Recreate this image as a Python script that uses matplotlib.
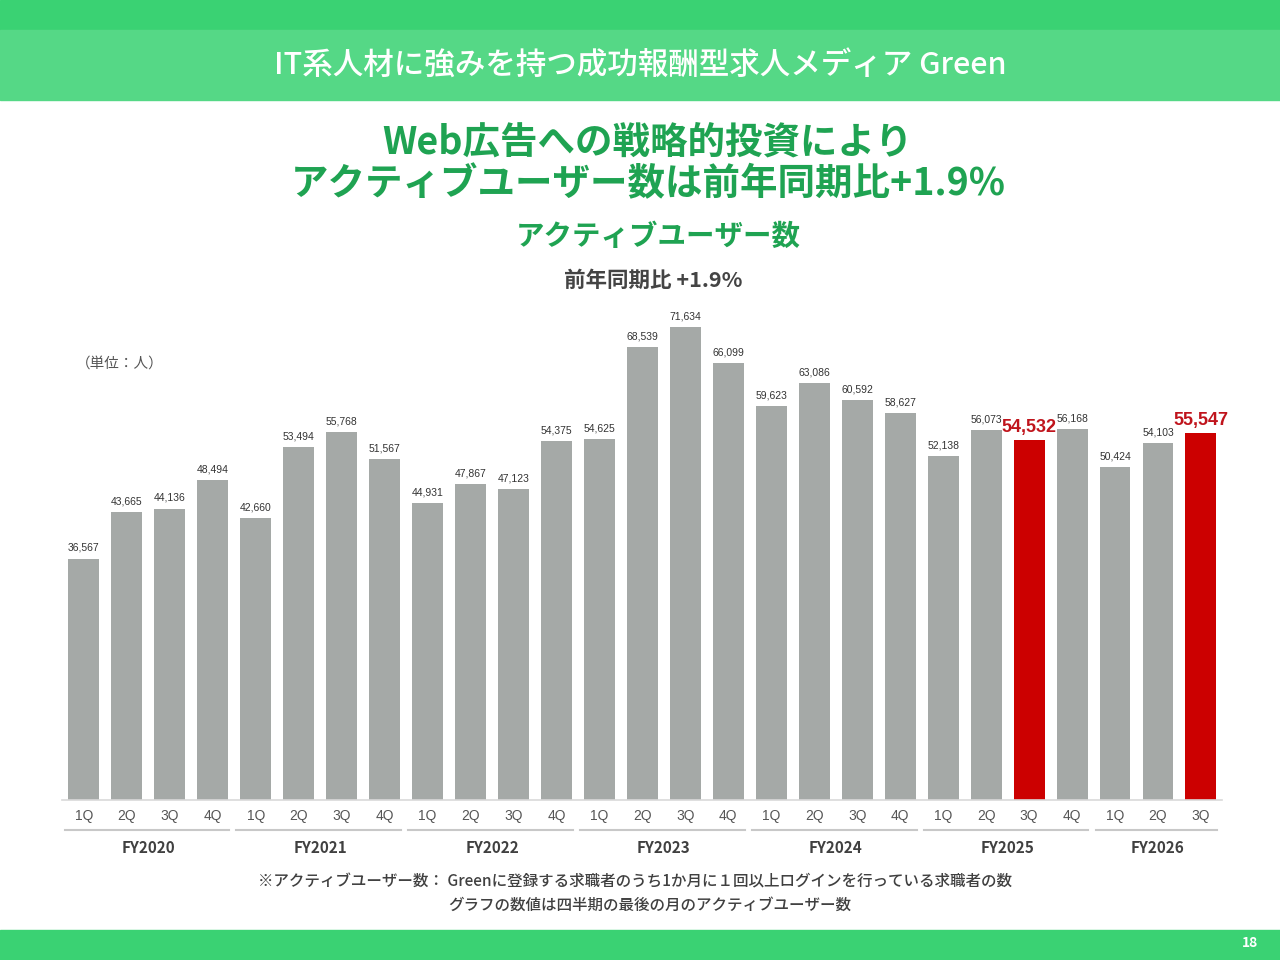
import numpy as np
import matplotlib
matplotlib.use('Agg')
from matplotlib import pyplot as plt
from matplotlib.patches import Rectangle
import matplotlib.transforms as mtransforms

plt.rcParams['font.family'] = ['Noto Sans CJK JP', 'DejaVu Sans']

# Data
# ----------------------------
fiscal_years = ['FY2020', 'FY2021', 'FY2022', 'FY2023', 'FY2024', 'FY2025', 'FY2026']
quarters_per_year = [4, 4, 4, 4, 4, 4, 3]
quarter_names = ['1Q', '2Q', '3Q', '4Q']
active_users = [36567, 43665, 44136, 48494,
                42660, 53494, 55768, 51567,
                44931, 47867, 47123, 54375,
                54625, 68539, 71634, 66099,
                59623, 63086, 60592, 58627,
                52138, 56073, 54532, 56168,
                50424, 54103, 55547]
highlight = [22, 26]   # FY2025 3Q and FY2026 3Q drawn red

tick_labels = []
for n in quarters_per_year:
    tick_labels += quarter_names[:n]

# Figure and page decorations
# ----------------------------
W, H = 1280, 960
fig = plt.figure(figsize=(12.8, 9.6), dpi=100)
fig.patch.set_facecolor('white')

def px(x, y):
    # pixel (from top-left) to figure fraction
    return x / W, 1 - y / H

fig.patches.append(Rectangle((0, 1 - 30 / H), 1, 30 / H, transform=fig.transFigure,
                             color='#3AD273', zorder=0))
fig.patches.append(Rectangle((0, 1 - 100 / H), 1, 70 / H, transform=fig.transFigure,
                             color='#55D886', zorder=0))
fig.patches.append(Rectangle((0, 0), 1, 30 / H, transform=fig.transFigure,
                             color='#3AD273', zorder=0))

fig.text(*px(640, 66), 'IT系人材に強みを持つ成功報酬型求人メディア Green', color='white',
         fontsize=22, fontweight='medium', ha='center', va='center')
fig.text(*px(1250, 943), '18', color='white', fontsize=10, fontweight='bold',
         ha='center', va='center')

title_green = '#1FA352'
fig.text(*px(648, 142), 'Web広告への戦略的投資により', color=title_green,
         fontsize=27, fontweight='bold', ha='center', va='center')
fig.text(*px(648, 184), 'アクティブユーザー数は前年同期比+1.9%', color=title_green,
         fontsize=27, fontweight='bold', ha='center', va='center')
fig.text(*px(658, 237), 'アクティブユーザー数', color=title_green,
         fontsize=20.5, fontweight='bold', ha='center', va='center')
fig.text(*px(653, 280), '前年同期比 +1.9%', color='#444444',
         fontsize=15.5, fontweight='bold', ha='center', va='center')
fig.text(*px(76, 364), '（単位：人）', color='#555555', fontsize=10.5,
         ha='left', va='center')

fig.text(*px(258, 882), '※アクティブユーザー数： Greenに登録する求職者のうち1か月に１回以上ログインを行っている求職者の数',
         color='#404040', fontsize=11.2, fontweight='medium', ha='left', va='center')
fig.text(*px(448, 905), 'グラフの数値は四半期の最後の月のアクティブユーザー数',
         color='#404040', fontsize=11.2, fontweight='medium', ha='left', va='center')

# Bar chart
# ----------------------------
ax = fig.add_axes([62 / W, (H - 800) / H, 1160 / W, 490 / H])
x = np.arange(len(active_users))
colors = ['#CC0000' if i in highlight else '#A5A9A7' for i in x]
ax.bar(x, active_users, width=0.72, color=colors, zorder=2)

ax.set_xlim(-0.51, len(active_users) - 0.51)
ax.set_ylim(0, 74200)
ax.set_yticks([])
for s in ['top', 'right', 'left']:
    ax.spines[s].set_visible(False)
ax.spines['bottom'].set_color('#D9D9D9')
ax.spines['bottom'].set_linewidth(1.2)

ax.set_xticks(x)
ax.set_xticklabels(tick_labels, fontsize=10, color='#555555', family='Liberation Sans')
ax.tick_params(axis='x', length=0, pad=6.5)

for i, v in enumerate(active_users):
    if i in highlight:
        ax.annotate(f'{v:,}', (i, v), xytext=(0, 3), textcoords='offset points',
                    ha='center', va='bottom', fontsize=13, fontweight='bold',
                    color='#C0141C', family='Liberation Sans')
    else:
        ax.annotate(f'{v:,}', (i, v), xytext=(0, 4), textcoords='offset points',
                    ha='center', va='bottom', fontsize=7.5, color='#333333',
                    family='Liberation Sans')

# fiscal year groups below the quarter labels
trans = mtransforms.blended_transform_factory(ax.transData, fig.transFigure)
start = 0
for fy, n in zip(fiscal_years, quarters_per_year):
    end = start + n - 1
    ax.plot([start - 0.45, end + 0.38], [1 - 830 / H] * 2, transform=trans,
            color='#C8C8C8', lw=1.5, clip_on=False)
    ax.text((start + end) / 2, 1 - 848 / H, fy, transform=trans, ha='center',
            va='center', fontsize=11, fontweight='bold', color='#404040')
    start += n

plt.savefig('out.png', dpi=100)
